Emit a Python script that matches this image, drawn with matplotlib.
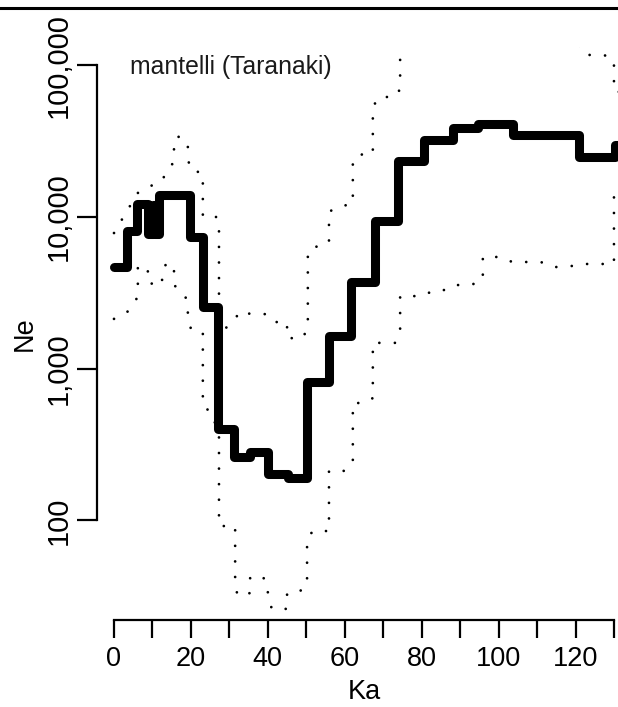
import matplotlib
matplotlib.use("Agg")
import matplotlib.pyplot as plt
from matplotlib.lines import Line2D
from matplotlib.ticker import NullLocator

plt.rcParams['font.family'] = ['Liberation Sans', 'DejaVu Sans']
plt.rcParams['lines.scale_dashes'] = False

# median Ne, step function: start of each interval (Ka) and its value
median_ka = [0, 3.4, 6.0, 8.8, 10.1, 10.7, 11.7, 19.8, 23.1, 27.0, 31.2, 35.4, 40.0,
             45.2, 50.2, 55.9, 61.6, 67.9, 73.8, 80.6, 88.1, 94.6, 103.7, 120.9, 130.3, 136]
median_ne = [4680, 8090, 12200, 7730, 12000, 7730, 14000, 7380, 2550, 400, 262, 282, 202,
             190, 817, 1640, 3730, 9410, 23400, 32200, 38600, 41000, 34700, 24900, 29800, 29800]

# upper 95% bound
upper_ka = [0.0, 2.9, 6.2, 8.3, 12.5, 13.8, 15.6, 15.6, 16.4, 19.2, 19.2, 19.8, 23.1, 23.1,
            26.8, 27.3, 27.3, 29.4, 31.5, 32.8, 35.6, 39.8, 41.6, 45.0, 45.0, 49.1, 50.4, 50.4,
            53.0, 55.9, 55.9, 58.0, 62.1, 62.1, 64.7, 67.3, 67.3, 68.9, 73.1, 74.4, 74.4, 120.6,
            121.1, 123.2, 127.4, 130.0, 130.0, 136]
upper_ne = [7840, 10460, 14400, 15500, 17300, 20400, 23000, 29400, 34200, 31200, 24900, 20400,
            19500, 10000, 10000, 8210, 1750, 1880, 2130, 2400, 2290, 2290, 2030, 2030, 1590, 1590,
            1880, 5970, 6440, 6740, 10790, 11640, 12200, 24100, 26000, 26000, 53100, 61800, 61800,
            69800, 400000, 400000, 126200, 117000, 117000, 108400, 66800, 66800]

# lower 95% bound
lower_ka = [0.0, 2.9, 4.9, 6.2, 6.2, 8.8, 8.8, 12.5, 12.5, 13.8, 15.6, 15.6, 17.9, 19.2, 19.2,
            20.0, 23.1, 23.1, 25.5, 27.3, 27.3, 31.5, 31.5, 32.2, 35.4, 35.4, 38.2, 40.0, 40.0,
            41.1, 45.0, 45.0, 48.4, 50.2, 50.2, 51.7, 55.9, 55.9, 60.1, 62.1, 62.1, 65.5, 67.3,
            67.3, 73.1, 74.4, 74.4, 80.3, 83.2, 87.1, 89.2, 92.8, 95.9, 95.9, 100.9, 103.5, 111.0,
            113.9, 117.8, 121.4, 130.0, 130.0, 136]
lower_ne = [2130, 2290, 2590, 3010, 4680, 4680, 3670, 3560, 4340, 5050, 4540, 3560, 3150, 2790,
            2190, 1830, 1750, 568, 510, 355, 91.8, 91.8, 36.9, 31.8, 33.2, 41.7, 43.6, 38.7, 30.3,
            26.1, 26.1, 33.2, 34.3, 36.9, 75.4, 85.1, 85.1, 212, 212, 239, 594, 594, 641, 1480,
            1480, 1750, 3010, 3010, 3300, 3300, 3560, 3560, 3840, 5450, 5450, 5050, 5050, 4680,
            4680, 4900, 4900, 14400, 14400]

yticks = [100, 1000, 10000, 100000]
ytick_labels = ['100', '1,000', '10,000', '100,000']
xticks = list(range(0, 131, 10))
xtick_labels = [str(t) if t % 20 == 0 and t < 130 else '' for t in xticks]

fig = plt.figure(figsize=(6.18, 7.07), dpi=100)
ax = fig.add_axes([97 / 618, 87 / 707, 521 / 618, 573 / 707])
ax.set_yscale('log')

dot = dict(color='black', lw=2.0, dashes=(0.01, 11.2), dash_capstyle='round')
ax.plot(upper_ka, upper_ne, **dot)
ax.plot(lower_ka, lower_ne, **dot)
ax.step(median_ka, median_ne, where='post', color='black', lw=6.5,
        solid_capstyle='round', solid_joinstyle='round')

ax.set_xlim(-4.42, 131.05)
ax.set_ylim(22.05, 132000)

for s in ['top', 'right']:
    ax.spines[s].set_visible(False)
ax.spines['left'].set_bounds(100, 100000)
ax.spines['bottom'].set_bounds(0, 130)
ax.spines['left'].set_linewidth(1.6)
ax.spines['bottom'].set_linewidth(1.6)

ax.set_yticks(yticks, ytick_labels)
ax.yaxis.set_minor_locator(NullLocator())
ax.set_xticks(xticks, xtick_labels)
ax.tick_params(axis='y', direction='out', length=14.4, width=1.6, labelsize=21, pad=3,
               labelrotation=90)
ax.tick_params(axis='x', direction='out', length=13, width=1.6, labelsize=19.5, pad=6)
for lab in ax.get_yticklabels():
    lab.set_verticalalignment('center')

ax.set_xlabel('Ka', fontsize=19.5)
ax.set_ylabel('Ne', fontsize=19.5)
ax.xaxis.set_label_coords((364 - 97) / 521, (620 - 692) / 573)
ax.xaxis.label.set_verticalalignment('center')
ax.yaxis.set_label_coords((25 - 97) / 521, (620 - 334) / 573)
ax.yaxis.label.set_verticalalignment('center')

ax.text(4.2, 87300, 'mantelli (Taranaki)', fontsize=17.8, color='#1a1a1a', va='baseline')

# frame edge at the very top
fig.add_artist(Line2D([0, 1], [1 - 7.5 / 707] * 2, transform=fig.transFigure,
                      color='black', lw=2.2))

fig.savefig('out.png', dpi=100)
